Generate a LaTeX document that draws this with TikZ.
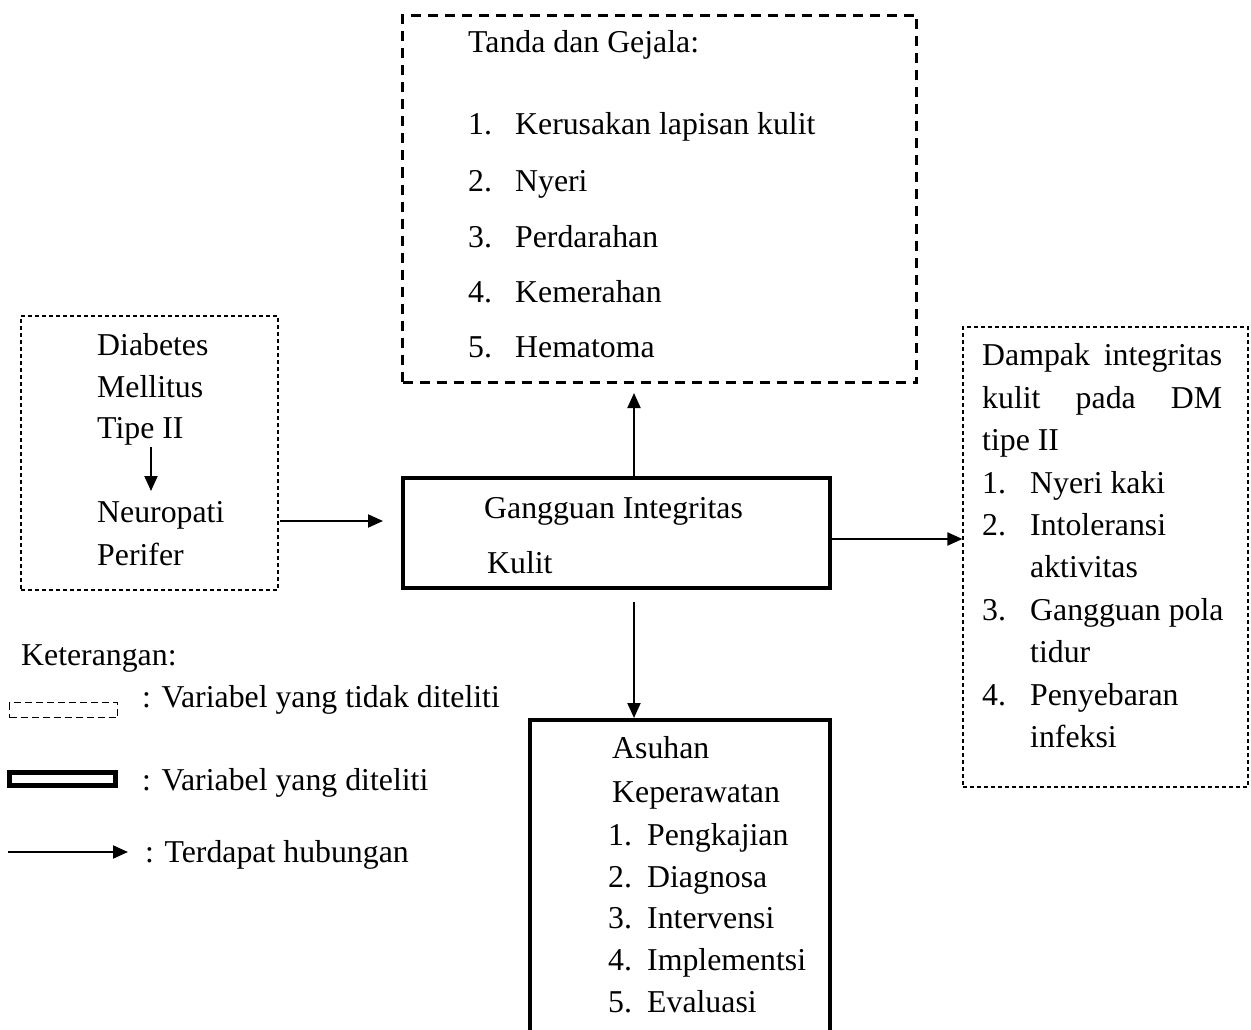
\documentclass[tikz,border=0pt]{standalone}
\usepackage{fontspec}
\setmainfont{Liberation Serif}
\usetikzlibrary{arrows.meta}
\newcommand\msz{\fontsize{31.8}{38}\selectfont}
\tikzset{
  txt/.style={anchor=base west, inner sep=0pt, font=\msz},
  thindash/.style={draw, line width=1.2pt, dash pattern=on 4pt off 3pt, inner sep=0pt},
  thickdash/.style={draw, line width=3pt, dash pattern=on 10pt off 7pt, inner sep=0pt},
  thickbox/.style={draw, line width=4pt, inner sep=0pt},
  arr/.style={line width=2pt, -{Triangle[length=15pt,width=13pt]}}
}
\begin{document}
\begin{tikzpicture}[x=1pt,y=-1pt]
\clip (0,0) rectangle (1251,1030);
\fill[white] (0,0) rectangle (1251,1030);
% boxes
\node[thickdash, minimum width=514pt, minimum height=367pt] (tanda) at (659.5,199) {};
\node[thindash, minimum width=257pt, minimum height=274pt] (lbox) at (149.5,453) {};
\node[thickbox, minimum width=427pt, minimum height=110pt] (center) at (616.5,533) {};
\node[thindash, minimum width=285pt, minimum height=460pt] (rbox) at (1105.5,557) {};
\node[thickbox, minimum width=300pt, minimum height=330pt] (abox) at (680,885) {};
% top box text
\node[txt] (tg0) at (468,53) {Tanda dan Gejala:};
\node[txt] (tg1) at (468,135) {\makebox[47pt][l]{1.}Kerusakan lapisan kulit};
\node[txt] (tg2) at (468,191) {\makebox[47pt][l]{2.}Nyeri};
\node[txt] (tg3) at (468,247) {\makebox[47pt][l]{3.}Perdarahan};
\node[txt] (tg4) at (468,302) {\makebox[47pt][l]{4.}Kemerahan};
\node[txt] (tg5) at (468,357) {\makebox[47pt][l]{5.}Hematoma};
% left box text
\node[txt] (dm1) at (97,355) {Diabetes};
\node[txt] (dm2) at (97,397) {Mellitus};
\node[txt] (dm3) at (97,438) {Tipe II};
\node[txt] (np1) at (97,522) {Neuropati};
\node[txt] (np2) at (97,565) {Perifer};
\coordinate (ta) at (151,447);
\coordinate (tb) at (151,491);
\draw[arr] (ta) -- (tb);
% center text
\node[txt] (gi1) at (484,518) {Gangguan Integritas};
\node[txt] (gi2) at (487,573) {Kulit};
% right box text
\node[txt] (r1) at (982,365) {\makebox[240pt][s]{Dampak integritas}};
\node[txt] (r2) at (982,408) {\makebox[240pt][s]{kulit pada DM}};
\node[txt] (r3) at (982,450) {tipe II};
\node[txt] (r4) at (982,493) {\makebox[48pt][l]{1.}Nyeri kaki};
\node[txt] (r5) at (982,535) {\makebox[48pt][l]{2.}Intoleransi};
\node[txt] (r6) at (1030,577) {aktivitas};
\node[txt] (r7) at (982,620) {\makebox[48pt][l]{3.}Gangguan pola};
\node[txt] (r8) at (1030,662) {tidur};
\node[txt] (r9) at (982,705) {\makebox[48pt][l]{4.}Penyebaran};
\node[txt] (r10) at (1030,747) {infeksi};
% bottom box text
\node[txt] (a1) at (612,758) {Asuhan};
\node[txt] (a2) at (612,802) {Keperawatan};
\node[txt] (a3) at (608,845) {\makebox[39pt][l]{1.}Pengkajian};
\node[txt] (a4) at (608,887) {\makebox[39pt][l]{2.}Diagnosa};
\node[txt] (a5) at (608,928) {\makebox[39pt][l]{3.}Intervensi};
\node[txt] (a6) at (608,970) {\makebox[39pt][l]{4.}Implementsi};
\node[txt] (a7) at (608,1012) {\makebox[39pt][l]{5.}Evaluasi};
% connectors
\coordinate (p1) at (280,521);
\draw[arr, shorten >=18pt] (p1) -- (p1 -| center.west);
\coordinate (ux) at (634,0);
\draw[arr, shorten >=9pt] (ux |- center.north) -- (ux |- tanda.south);
\draw[arr, shorten <=12pt] (ux |- center.south) -- (ux |- abox.north);
\coordinate (p2) at (832,539);
\draw[arr] (p2) -- (p2 -| rbox.west);
% legend
\node[txt] (ket) at (21,665) {Keterangan:};
\node[thindash, dash pattern=on 7pt off 4pt, minimum width=108pt, minimum height=15pt] (legdash) at (63.5,710) {};
\node[txt] (l1) at (142,707) {: Variabel yang tidak diteliti};
\node[thickbox, line width=5pt, minimum width=106pt, minimum height=13pt] (legbox) at (62.5,779) {};
\node[txt] (l2) at (142,790) {: Variabel yang diteliti};
\coordinate (la) at (8,852);
\coordinate (lb) at (128,852);
\draw[arr] (la) -- (lb);
\node[txt] (l3) at (145,862) {: Terdapat hubungan};
\end{tikzpicture}
\end{document}
